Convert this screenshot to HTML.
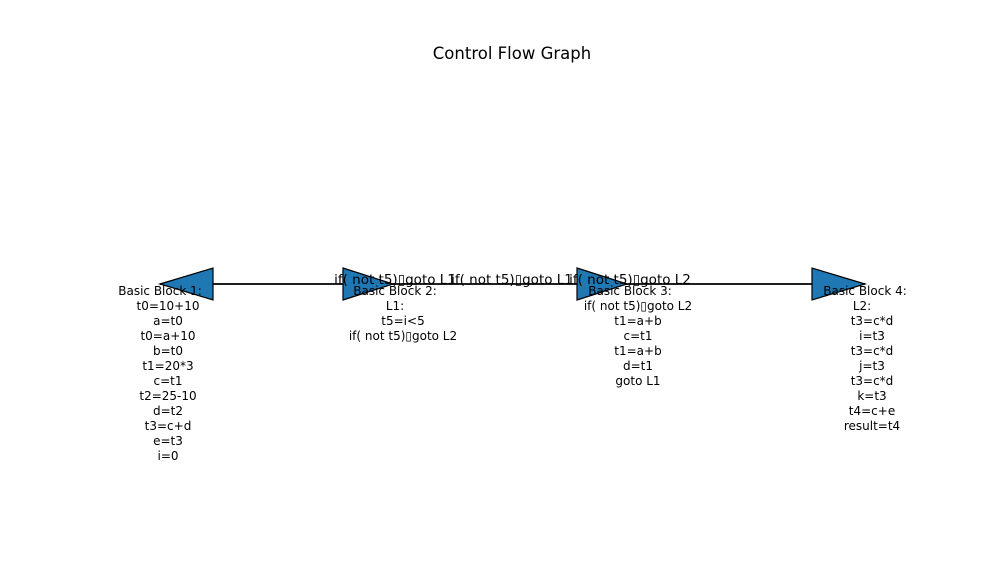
<!DOCTYPE html>
<html><head><meta charset="utf-8"><style>
html,body{margin:0;padding:0;background:#fff;}
svg{display:block;}
text{font-family:"DejaVu Sans","Liberation Sans",sans-serif;}
</style></head><body>
<svg width="1000" height="563" viewBox="0 0 1000 563" xmlns="http://www.w3.org/2000/svg">
<rect width="1000" height="563" fill="#fff"/>
<text x="512" y="59" font-size="16.5" text-anchor="middle">Control Flow Graph</text>
<line x1="160" y1="284" x2="865" y2="284" stroke="#000" stroke-width="1.8"/>
<g fill="#1f77b4" stroke="#000" stroke-width="1.2" stroke-linejoin="miter">
<polygon points="160,284 213,268 213,300"/>
<polygon points="393,284 343,268 343,300"/>
<polygon points="627,284 577,268 577,300"/>
<polygon points="865,284 812,268 812,300"/>
</g>
<g font-size="13.5" text-anchor="middle">
<text x="395" y="284">if( not t5)▯goto L1</text>
<text x="512" y="284">if( not t5)▯goto L1</text>
<text x="630" y="284">if( not t5)▯goto L2</text>
</g>
<g font-size="12" text-anchor="middle">
<text x="160" y="295">Basic Block 1:</text>
<text x="168" y="310">t0=10+10</text>
<text x="168" y="325">a=t0</text>
<text x="168" y="340">t0=a+10</text>
<text x="168" y="355">b=t0</text>
<text x="168" y="370">t1=20*3</text>
<text x="168" y="385">c=t1</text>
<text x="168" y="400">t2=25-10</text>
<text x="168" y="415">d=t2</text>
<text x="168" y="430">t3=c+d</text>
<text x="168" y="445">e=t3</text>
<text x="168" y="460">i=0</text>

<text x="395" y="295">Basic Block 2:</text>
<text x="395" y="310">L1:</text>
<text x="403" y="325">t5=i&lt;5</text>
<text x="403" y="340">if( not t5)▯goto L2</text>

<text x="630" y="295">Basic Block 3:</text>
<text x="638" y="310">if( not t5)▯goto L2</text>
<text x="638" y="325">t1=a+b</text>
<text x="638" y="340">c=t1</text>
<text x="638" y="355">t1=a+b</text>
<text x="638" y="370">d=t1</text>
<text x="638" y="385">goto L1</text>

<text x="865" y="295">Basic Block 4:</text>
<text x="862" y="310">L2:</text>
<text x="872" y="325">t3=c*d</text>
<text x="872" y="340">i=t3</text>
<text x="872" y="355">t3=c*d</text>
<text x="872" y="370">j=t3</text>
<text x="872" y="385">t3=c*d</text>
<text x="872" y="400">k=t3</text>
<text x="872" y="415">t4=c+e</text>
<text x="872" y="430">result=t4</text>
</g>
</svg>
</body></html>
